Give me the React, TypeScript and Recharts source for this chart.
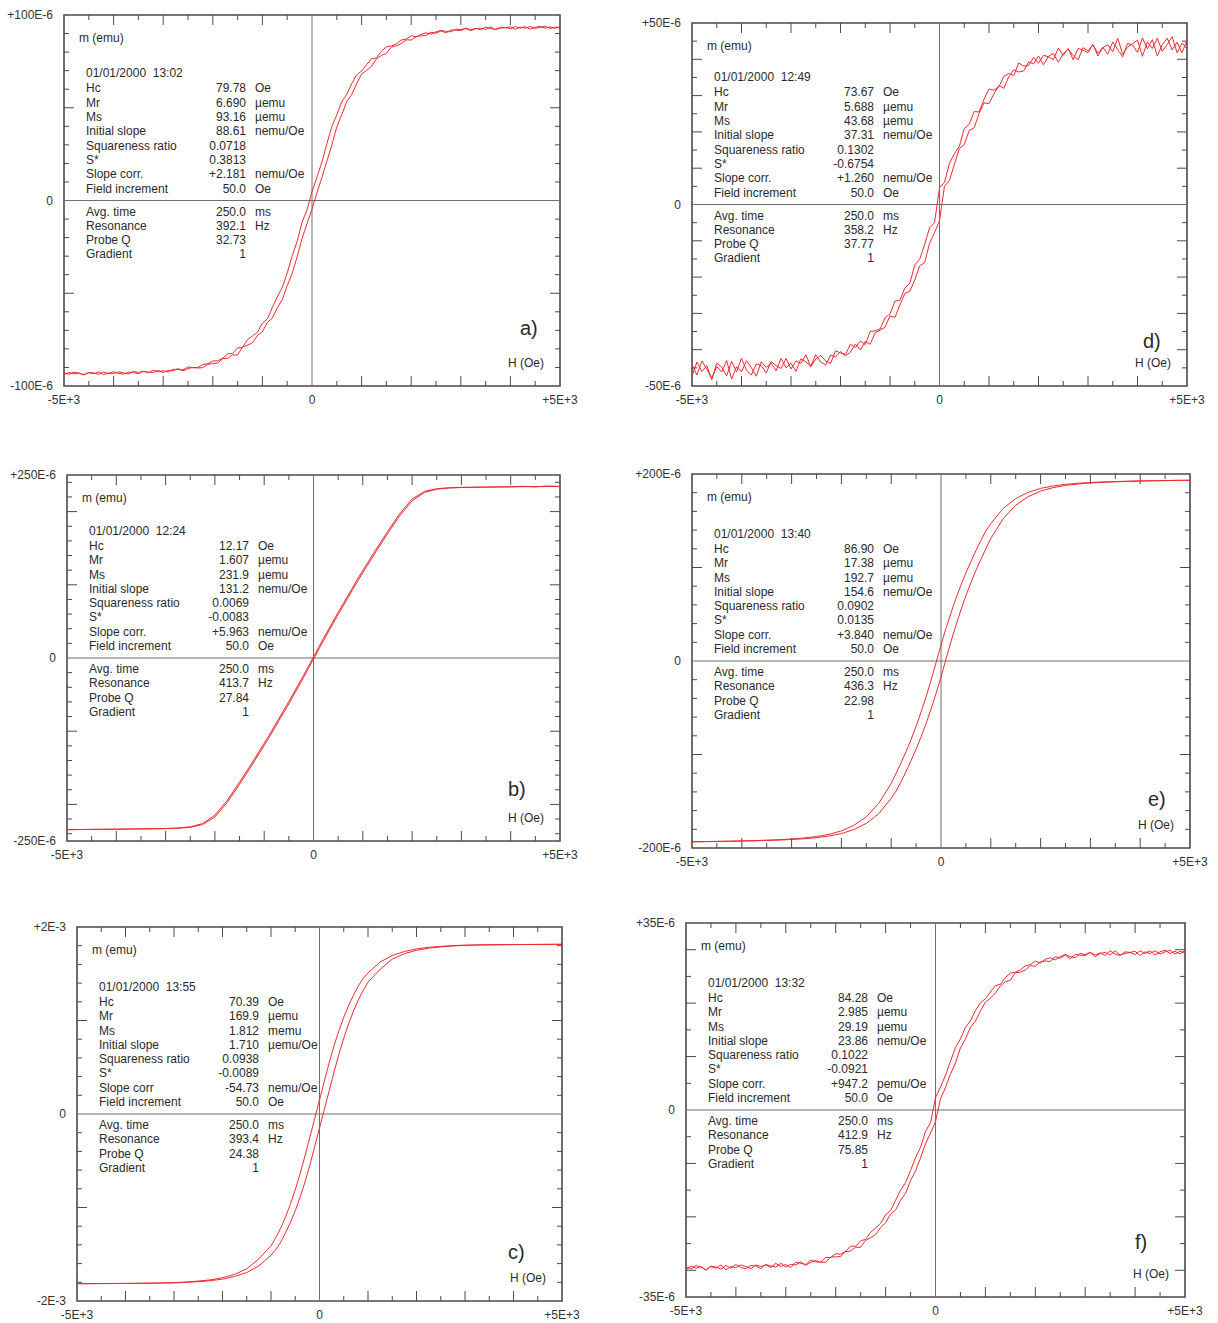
import React from 'react';
import { LineChart, Line, XAxis, YAxis, ReferenceLine, ReferenceArea } from 'recharts';

// Field sweep used by the noisier VSM runs (Oe), 100 Oe step
const H_SWEEP = [
  -5000, -4900, -4800, -4700, -4600, -4500, -4400, -4300, -4200, -4100,
  -4000, -3900, -3800, -3700, -3600, -3500, -3400, -3300, -3200, -3100,
  -3000, -2900, -2800, -2700, -2600, -2500, -2400, -2300, -2200, -2100,
  -2000, -1900, -1800, -1700, -1600, -1500, -1400, -1300, -1200, -1100,
  -1000, -900, -800, -700, -600, -500, -400, -300, -200, -100,
  0, 100, 200, 300, 400, 500, 600, 700, 800, 900,
  1000, 1100, 1200, 1300, 1400, 1500, 1600, 1700, 1800, 1900,
  2000, 2100, 2200, 2300, 2400, 2500, 2600, 2700, 2800, 2900,
  3000, 3100, 3200, 3300, 3400, 3500, 3600, 3700, 3800, 3900,
  4000, 4100, 4200, 4300, 4400, 4500, 4600, 4700, 4800, 4900, 5000,
];

// Field points for the smooth runs (Oe)
const H_FINE = [
  -5000, -4750, -4500, -4250, -4000, -3750, -3500, -3250, -3000, -2750, -2500, -2250, -2000, -1750, -1500, -1250,
  -1000, -900, -800, -700, -600, -500, -400, -300, -200, -100, 0, 100, 200, 300, 400, 500, 600, 700, 800, 900, 1000,
  1250, 1500, 1750, 2000, 2250, 2500, 2750, 3000, 3250, 3500, 3750, 4000, 4250, 4500, 4750, 5000,
];

// a) moment in µemu, descending and ascending field branches
const A_DOWN = [
  -92.9, -93.7, -92.5, -93.2, -93.8, -92.9, -93.4, -92.4, -93.9, -92.9,
  -93.3, -92.4, -92.9, -93.5, -92.2, -92.7, -92.1, -92.9, -91.5, -92.4,
  -91.7, -92.5, -91.0, -91.1, -91.3, -89.7, -90.2, -90.0, -88.4, -88.0,
  -86.5, -86.4, -85.0, -82.7, -82.4, -79.5, -79.2, -75.0, -73.0, -71.0,
  -66.1, -63.9, -57.7, -52.0, -46.9, -39.1, -30.0, -22.1, -11.7, -5.0,
  4.8, 12.6, 20.7, 30.6, 39.9, 46.2, 53.2, 57.2, 63.0, 67.7,
  69.8, 73.2, 76.4, 76.9, 80.4, 82.9, 83.3, 84.4, 86.5, 87.0,
  88.8, 88.2, 89.6, 90.4, 89.7, 90.9, 91.7, 91.2, 90.9, 92.4,
  92.1, 92.9, 92.0, 92.8, 92.1, 93.5, 92.7, 92.2, 93.4, 93.2,
  92.6, 93.8, 92.9, 93.7, 92.4, 93.3, 93.9, 92.9, 93.6, 92.8, 93.9,
];
const A_UP = [
  -93.9, -92.7, -93.4, -93.0, -94.0, -92.7, -93.0, -93.7, -92.5, -93.4,
  -92.3, -93.2, -93.6, -92.6, -92.7, -93.4, -92.1, -92.5, -92.7, -91.6,
  -92.7, -91.6, -91.8, -90.7, -91.8, -90.6, -90.0, -90.3, -90.1, -88.3,
  -87.9, -87.6, -85.3, -85.1, -83.2, -83.3, -79.0, -78.0, -76.7, -72.8,
  -70.7, -65.7, -63.4, -57.8, -53.5, -45.9, -39.3, -30.4, -20.4, -12.5,
  -4.6, 4.2, 12.3, 21.2, 29.9, 39.7, 46.3, 53.3, 57.1, 62.9,
  68.2, 70.1, 72.3, 76.4, 78.2, 79.3, 82.7, 83.4, 84.6, 86.6,
  86.5, 88.3, 88.8, 89.0, 90.7, 90.2, 91.4, 90.4, 91.9, 91.8,
  91.6, 92.7, 91.6, 92.6, 92.9, 92.2, 93.5, 92.2, 92.9, 93.2,
  93.6, 92.3, 93.5, 92.9, 93.8, 92.8, 93.3, 94.0, 92.7, 93.5, 93.0,
];

// d) moment in µemu
const D_DOWN = [
  -47.3, -43.4, -46.0, -44.4, -48.3, -43.7, -44.8, -47.2, -43.2, -46.1,
  -42.4, -45.6, -47.0, -43.9, -44.4, -46.4, -43.2, -44.4, -45.2, -42.4,
  -45.3, -43.1, -43.8, -41.4, -44.7, -42.6, -41.6, -43.1, -43.8, -40.3,
  -40.9, -41.3, -38.5, -39.4, -37.6, -38.6, -35.0, -34.8, -34.3, -31.2,
  -30.2, -26.6, -26.4, -23.0, -21.7, -16.7, -15.1, -11.0, -6.4, -5.0,
  4.6, 6.1, 11.3, 14.0, 16.0, 20.9, 22.1, 25.6, 25.5, 29.0,
  31.8, 31.5, 32.4, 35.3, 36.1, 35.5, 39.0, 38.1, 38.3, 40.5,
  38.9, 41.1, 40.7, 39.9, 43.1, 41.1, 43.0, 39.9, 43.0, 42.5,
  41.8, 44.1, 40.9, 43.2, 44.0, 42.1, 45.8, 41.4, 43.3, 44.3,
  45.3, 40.8, 44.8, 43.0, 45.8, 42.2, 44.1, 46.2, 41.8, 44.5, 42.8,
];
const D_UP = [
  -44.1, -47.0, -43.1, -45.4, -47.7, -44.7, -46.1, -43.0, -48.1, -44.7,
  -46.1, -43.0, -45.0, -47.3, -43.3, -44.9, -43.7, -45.8, -42.4, -45.0,
  -43.7, -46.0, -42.5, -43.4, -44.5, -41.4, -43.4, -44.2, -41.5, -42.0,
  -40.5, -41.7, -40.7, -38.4, -40.1, -37.7, -38.5, -35.3, -34.6, -33.8,
  -30.7, -31.1, -27.7, -24.5, -23.9, -20.8, -16.9, -16.0, -10.7, -7.7,
  -4.5, 5.0, 6.6, 11.0, 15.4, 16.5, 20.4, 21.1, 25.1, 28.0,
  27.8, 30.5, 32.8, 32.0, 35.2, 37.1, 36.5, 36.8, 39.3, 38.7,
  40.9, 38.5, 40.8, 41.6, 39.2, 41.5, 42.8, 41.0, 39.9, 43.2,
  42.3, 44.0, 41.7, 43.3, 41.4, 44.8, 42.7, 40.7, 44.4, 43.9,
  41.9, 45.9, 42.9, 45.4, 40.9, 44.0, 45.8, 42.6, 44.7, 41.8, 45.4,
];

// f) moment in µemu
const F_DOWN = [
  -29.3, -29.8, -29.1, -29.4, -29.9, -29.3, -29.6, -29.0, -29.9, -29.3,
  -29.5, -29.0, -29.3, -29.7, -29.0, -29.3, -29.0, -29.5, -28.7, -29.3,
  -28.9, -29.5, -28.5, -28.7, -28.9, -28.1, -28.4, -28.5, -27.6, -27.6,
  -26.9, -27.0, -26.4, -25.5, -25.5, -24.5, -24.2, -22.9, -22.1, -21.2,
  -19.6, -18.8, -16.9, -15.0, -13.6, -11.3, -8.9, -7.0, -4.0, -2.4,
  2.3, 4.3, 6.5, 9.1, 11.7, 13.3, 15.5, 16.7, 18.6, 20.1,
  20.8, 22.1, 23.3, 23.5, 24.8, 25.6, 25.8, 26.2, 27.0, 27.2,
  27.9, 27.5, 28.2, 28.5, 28.1, 28.7, 29.1, 28.7, 28.5, 29.3,
  29.1, 29.5, 29.0, 29.4, 28.9, 29.8, 29.2, 28.9, 29.6, 29.5,
  29.1, 29.8, 29.3, 29.8, 29.0, 29.6, 29.9, 29.3, 29.7, 29.2, 29.9,
];
const F_UP = [
  -29.9, -29.2, -29.6, -29.3, -30.0, -29.2, -29.4, -29.8, -29.1, -29.6,
  -28.9, -29.5, -29.7, -29.1, -29.2, -29.7, -28.9, -29.2, -29.4, -28.7,
  -29.4, -28.9, -29.0, -28.4, -29.1, -28.5, -28.2, -28.5, -28.5, -27.5,
  -27.5, -27.4, -26.5, -26.4, -25.7, -25.7, -24.4, -23.9, -23.3, -22.0,
  -21.1, -19.5, -18.7, -16.9, -15.6, -13.2, -11.4, -9.0, -6.3, -4.3,
  -2.2, 2.1, 4.2, 6.7, 8.8, 11.6, 13.3, 15.5, 16.6, 18.5,
  20.2, 20.9, 21.9, 23.2, 24.0, 24.3, 25.7, 25.8, 26.2, 27.0,
  26.9, 27.7, 27.9, 27.8, 28.7, 28.4, 29.0, 28.3, 29.1, 29.0,
  28.9, 29.5, 28.7, 29.3, 29.5, 29.0, 29.8, 29.0, 29.3, 29.5,
  29.7, 28.9, 29.6, 29.3, 29.8, 29.2, 29.6, 29.9, 29.2, 29.7, 29.4,
];

// b) moment in µemu
const B_DOWN = [
  -234.5, -234.3, -234.1, -234, -233.8, -233.6, -233.4, -233.2, -232.9, -232.2, -230.6, -226.2, -214.6, -194.5, -169.5, -143.5,
  -116.5, -105.5, -94, -82.5, -71, -59.5, -47.5, -35.5, -23.5, -11, 1.5, 14, 26.5, 38.5, 50.5, 62.5, 74, 85.5, 97, 108.5, 119.5,
  146.5, 172.5, 197.4, 217.2, 227.6, 231.3, 232.6, 233.1, 233.3, 233.5, 233.7, 233.9, 234.6, 233.8, 235.0, 234.2,
];
const B_UP = [
  -234.6, -234.4, -234.2, -234, -233.9, -233.7, -233.5, -233.3, -233.1, -232.6, -231.3, -227.6, -217.2, -197.4, -172.5, -146.5,
  -119.5, -108.5, -97, -85.5, -74, -62.5, -50.5, -38.5, -26.5, -14, -1.5, 11, 23.5, 35.5, 47.5, 59.5, 71, 82.5, 94, 105.5, 116.5,
  143.5, 169.5, 194.5, 214.6, 226.2, 230.6, 232.2, 232.9, 233.2, 233.4, 233.6, 233.8, 234, 234.1, 234.3, 234.5,
];

// c) moment in memu
const C_DOWN = [
  -1.815, -1.814, -1.813, -1.813, -1.812, -1.811, -1.809, -1.807, -1.803, -1.797, -1.787, -1.774, -1.751, -1.715, -1.656, -1.548,
  -1.41, -1.32, -1.22, -1.1, -0.965, -0.81, -0.64, -0.45, -0.25, -0.05, 0.15, 0.35, 0.55, 0.73, 0.89, 1.035, 1.16, 1.27, 1.37, 1.45, 1.51,
  1.625, 1.695, 1.738, 1.766, 1.783, 1.793, 1.801, 1.806, 1.808, 1.81, 1.811, 1.812, 1.813, 1.814, 1.815, 1.815,
];
const C_UP = [
  -1.815, -1.815, -1.814, -1.813, -1.812, -1.811, -1.81, -1.808, -1.806, -1.801, -1.793, -1.783, -1.766, -1.738, -1.695, -1.625,
  -1.51, -1.45, -1.37, -1.27, -1.16, -1.035, -0.89, -0.73, -0.55, -0.35, -0.15, 0.05, 0.25, 0.45, 0.64, 0.81, 0.965, 1.1, 1.22, 1.32, 1.41,
  1.548, 1.656, 1.715, 1.751, 1.774, 1.787, 1.797, 1.803, 1.807, 1.809, 1.811, 1.812, 1.813, 1.813, 1.814, 1.815,
];

// e) moment in µemu
const E_DOWN = [
  -193.3, -193.2, -192.9, -192.7, -192.4, -192.1, -191.6, -191.1, -190.4, -189.3, -187.8, -185.4, -181.7, -175.8, -166.7, -152.2,
  -131, -120.1, -108.6, -96.7, -83.8, -69.9, -54.6, -38.2, -20.8, -1.9, 17.1, 34.8, 51.4, 67, 81.1, 94.2, 106.3, 117.9, 128.9, 139, 146.8,
  163.3, 173.7, 180.3, 184.6, 187.2, 189, 190.1, 190.9, 191.5, 191.9, 192.3, 192.6, 192.8, 193.0, 193.2, 193.3,
];
const E_UP = [
  -193.3, -193.2, -193.0, -192.8, -192.6, -192.3, -191.9, -191.5, -190.9, -190.1, -189, -187.2, -184.6, -180.3, -173.7, -163.3,
  -146.8, -139, -128.9, -117.9, -106.3, -94.2, -81.1, -67, -51.4, -34.8, -17.1, 1.9, 20.8, 38.2, 54.6, 69.9, 83.8, 96.7, 108.6, 120.1, 131,
  152.2, 166.7, 175.8, 181.7, 185.4, 187.8, 189.3, 190.4, 191.1, 191.6, 192.1, 192.4, 192.7, 192.9, 193.2, 193.3,
];

type Row = [string, string, string];

const A_STATS: Row[] = [
  ['Hc', '79.78', 'Oe'], ['Mr', '6.690', 'µemu'], ['Ms', '93.16', 'µemu'], ['Initial slope', '88.61', 'nemu/Oe'],
  ['Squareness ratio', '0.0718', ''], ['S*', '0.3813', ''], ['Slope corr.', '+2.181', 'nemu/Oe'], ['Field increment', '50.0', 'Oe'],
];
const A_PROBE: Row[] = [['Avg. time', '250.0', 'ms'], ['Resonance', '392.1', 'Hz'], ['Probe Q', '32.73', ''], ['Gradient', '1', '']];

const D_STATS: Row[] = [
  ['Hc', '73.67', 'Oe'], ['Mr', '5.688', 'µemu'], ['Ms', '43.68', 'µemu'], ['Initial slope', '37.31', 'nemu/Oe'],
  ['Squareness ratio', '0.1302', ''], ['S*', '-0.6754', ''], ['Slope corr.', '+1.260', 'nemu/Oe'], ['Field increment', '50.0', 'Oe'],
];
const D_PROBE: Row[] = [['Avg. time', '250.0', 'ms'], ['Resonance', '358.2', 'Hz'], ['Probe Q', '37.77', ''], ['Gradient', '1', '']];

const B_STATS: Row[] = [
  ['Hc', '12.17', 'Oe'], ['Mr', '1.607', 'µemu'], ['Ms', '231.9', 'µemu'], ['Initial slope', '131.2', 'nemu/Oe'],
  ['Squareness ratio', '0.0069', ''], ['S*', '-0.0083', ''], ['Slope corr.', '+5.963', 'nemu/Oe'], ['Field increment', '50.0', 'Oe'],
];
const B_PROBE: Row[] = [['Avg. time', '250.0', 'ms'], ['Resonance', '413.7', 'Hz'], ['Probe Q', '27.84', ''], ['Gradient', '1', '']];

const E_STATS: Row[] = [
  ['Hc', '86.90', 'Oe'], ['Mr', '17.38', 'µemu'], ['Ms', '192.7', 'µemu'], ['Initial slope', '154.6', 'nemu/Oe'],
  ['Squareness ratio', '0.0902', ''], ['S*', '0.0135', ''], ['Slope corr.', '+3.840', 'nemu/Oe'], ['Field increment', '50.0', 'Oe'],
];
const E_PROBE: Row[] = [['Avg. time', '250.0', 'ms'], ['Resonance', '436.3', 'Hz'], ['Probe Q', '22.98', ''], ['Gradient', '1', '']];

const C_STATS: Row[] = [
  ['Hc', '70.39', 'Oe'], ['Mr', '169.9', 'µemu'], ['Ms', '1.812', 'memu'], ['Initial slope', '1.710', 'µemu/Oe'],
  ['Squareness ratio', '0.0938', ''], ['S*', '-0.0089', ''], ['Slope corr', '-54.73', 'nemu/Oe'], ['Field increment', '50.0', 'Oe'],
];
const C_PROBE: Row[] = [['Avg. time', '250.0', 'ms'], ['Resonance', '393.4', 'Hz'], ['Probe Q', '24.38', ''], ['Gradient', '1', '']];

const F_STATS: Row[] = [
  ['Hc', '84.28', 'Oe'], ['Mr', '2.985', 'µemu'], ['Ms', '29.19', 'µemu'], ['Initial slope', '23.86', 'nemu/Oe'],
  ['Squareness ratio', '0.1022', ''], ['S*', '-0.0921', ''], ['Slope corr.', '+947.2', 'pemu/Oe'], ['Field increment', '50.0', 'Oe'],
];
const F_PROBE: Row[] = [['Avg. time', '250.0', 'ms'], ['Resonance', '412.9', 'Hz'], ['Probe Q', '75.85', ''], ['Gradient', '1', '']];

const FONT = '"Liberation Sans", Arial, Helvetica, sans-serif';
const CURVE = '#ee2a30';
const FRAME = '#4a4a4a';
const INK = '#2a2a2a';

interface PanelSpec {
  id: string;
  left: number;
  top: number;
  width: number;
  height: number;
  ymax: number;
  yStep: number;
  yLong: number;
  yTop: string;
  yBottom: string;
  h: number[];
  down: number[];
  up: number[];
  time: string;
  stats: Row[];
  probe: Row[];
  letter: string;
  letterDx: number;
  letterDy: number;
}

const PANELS: PanelSpec[] = [
  { id: 'a', left: 64, top: 15, width: 496, height: 371, ymax: 100, yStep: 10, yLong: 50, yTop: '+100E-6', yBottom: '-100E-6',
    h: H_SWEEP, down: A_DOWN, up: A_UP, time: '01/01/2000  13:02', stats: A_STATS, probe: A_PROBE, letter: 'a)', letterDx: 40, letterDy: 58 },
  { id: 'd', left: 692, top: 23, width: 495, height: 363, ymax: 50, yStep: 5, yLong: 10, yTop: '+50E-6', yBottom: '-50E-6',
    h: H_SWEEP, down: D_DOWN, up: D_UP, time: '01/01/2000  12:49', stats: D_STATS, probe: D_PROBE, letter: 'd)', letterDx: 44, letterDy: 45 },
  { id: 'b', left: 67, top: 475, width: 493, height: 366, ymax: 250, yStep: 20, yLong: 100, yTop: '+250E-6', yBottom: '-250E-6',
    h: H_FINE, down: B_DOWN, up: B_UP, time: '01/01/2000  12:24', stats: B_STATS, probe: B_PROBE, letter: 'b)', letterDx: 52, letterDy: 52 },
  { id: 'e', left: 692, top: 474, width: 498, height: 374, ymax: 200, yStep: 20, yLong: 100, yTop: '+200E-6', yBottom: '-200E-6',
    h: H_FINE, down: E_DOWN, up: E_UP, time: '01/01/2000  13:40', stats: E_STATS, probe: E_PROBE, letter: 'e)', letterDx: 42, letterDy: 49 },
  { id: 'c', left: 77, top: 927, width: 485, height: 374, ymax: 2, yStep: 0.2, yLong: 1, yTop: '+2E-3', yBottom: '-2E-3',
    h: H_FINE, down: C_DOWN, up: C_UP, time: '01/01/2000  13:55', stats: C_STATS, probe: C_PROBE, letter: 'c)', letterDx: 54, letterDy: 49 },
  { id: 'f', left: 686, top: 923, width: 499, height: 374, ymax: 35, yStep: 5, yLong: 10, yTop: '+35E-6', yBottom: '-35E-6',
    h: H_SWEEP, down: F_DOWN, up: F_UP, time: '01/01/2000  13:32', stats: F_STATS, probe: F_PROBE, letter: 'f)', letterDx: 50, letterDy: 55 },
];

const H_LABELS: Record<number, string> = { [-5000]: '-5E+3', 0: '0', 5000: '+5E+3' };

const YW = 70;
const MT = 12;
const MR = 34;
const XH = 30;

const textStyle: React.CSSProperties = {
  position: 'absolute',
  fontSize: 12,
  lineHeight: '14px',
  height: 14,
  color: INK,
  whiteSpace: 'pre',
  fontFamily: FONT,
};

function Readout({ p }: { p: PanelSpec }) {
  const zeroY = p.top + p.height / 2;
  const labelX = p.left + 22;
  const valueRight = p.left + 182;
  const unitX = p.left + 191;
  const step = 14.3;
  const out: React.ReactNode[] = [];
  const row = (r: Row, cy: number, key: string) => {
    out.push(<div key={key + 'l'} style={{ ...textStyle, left: labelX, top: cy - 7 }}>{r[0]}</div>);
    out.push(<div key={key + 'v'} style={{ ...textStyle, left: valueRight - 90, width: 90, textAlign: 'right', top: cy - 7 }}>{r[1]}</div>);
    if (r[2]) out.push(<div key={key + 'u'} style={{ ...textStyle, left: unitX, top: cy - 7 }}>{r[2]}</div>);
  };
  const lastStat = zeroY - 12;
  p.stats.forEach((r, i) => row(r, lastStat - (p.stats.length - 1 - i) * step, 's' + i));
  const firstStat = lastStat - (p.stats.length - 1) * step;
  p.probe.forEach((r, i) => row(r, zeroY + 11 + i * step, 'p' + i));
  return (
    <>
      <div style={{ ...textStyle, left: p.left + 15, top: p.top + 23 - 7 }}>m (emu)</div>
      <div style={{ ...textStyle, left: labelX, top: firstStat - 15 - 7 }}>{p.time}</div>
      {out}
      <div style={{ ...textStyle, left: p.left + p.width - 52, top: p.top + p.height - 23 - 7 }}>H (Oe)</div>
      <div style={{ ...textStyle, fontSize: 20, lineHeight: '24px', height: 24, left: p.left + p.width - p.letterDx, top: p.top + p.height - p.letterDy - 12 }}>
        {p.letter}
      </div>
    </>
  );
}

function Panel({ p }: { p: PanelSpec }) {
  const down = p.h.map((h, i) => ({ h, m: p.down[i] }));
  const up = p.h.map((h, i) => ({ h, m: p.up[i] }));
  const yPerPx = (2 * p.ymax) / p.height;
  const xPerPx = 10000 / p.width;
  const marks: React.ReactNode[] = [];

  // field ticks every 500 Oe on the top and bottom frame, longer at whole kOe
  for (let i = -9; i <= 9; i++) {
    if (i === 0) continue;
    const x = i * 500;
    const len = (i % 2 === 0 ? 10 : 5) * yPerPx;
    marks.push(
      <ReferenceLine key={'xb' + i} segment={[{ x, y: -p.ymax }, { x, y: -p.ymax + len }]} stroke={FRAME} strokeWidth={1} />,
      <ReferenceLine key={'xt' + i} segment={[{ x, y: p.ymax }, { x, y: p.ymax - len }]} stroke={FRAME} strokeWidth={1} />,
    );
  }
  // moment ticks on the left and right frame
  const n = Math.floor((p.ymax - p.yStep * 0.01) / p.yStep);
  const every = Math.round(p.yLong / p.yStep);
  for (let j = -n; j <= n; j++) {
    if (j === 0) continue;
    const y = j * p.yStep;
    const len = (j % every === 0 ? 10 : 5) * xPerPx;
    marks.push(
      <ReferenceLine key={'yl' + j} segment={[{ x: -5000, y }, { x: -5000 + len, y }]} stroke={FRAME} strokeWidth={1} />,
      <ReferenceLine key={'yr' + j} segment={[{ x: 5000, y }, { x: 5000 - len, y }]} stroke={FRAME} strokeWidth={1} />,
    );
  }

  const tickFont = { fontSize: 12, fill: '#333', fontFamily: FONT };

  return (
    <>
      <div style={{ position: 'absolute', left: p.left - YW, top: p.top - MT }}>
        <LineChart
          width={YW + p.width + MR}
          height={MT + p.height + XH}
          margin={{ top: MT, right: MR, bottom: 0, left: 0 }}
        >
          <XAxis
            type="number"
            dataKey="h"
            domain={[-5000, 5000]}
            ticks={[-5000, 0, 5000]}
            tickFormatter={(v: number) => H_LABELS[v] ?? String(v)}
            interval={0}
            allowDataOverflow
            axisLine={false}
            tickLine={false}
            tickSize={0}
            tickMargin={9}
            height={XH}
            tick={tickFont}
          />
          <YAxis
            type="number"
            dataKey="m"
            domain={[-p.ymax, p.ymax]}
            ticks={[-p.ymax, 0, p.ymax]}
            tickFormatter={(v: number) => (v > 0 ? p.yTop : v < 0 ? p.yBottom : '0')}
            interval={0}
            allowDataOverflow
            axisLine={false}
            tickLine={false}
            tickSize={0}
            tickMargin={11}
            width={YW}
            tick={tickFont}
          />
          <ReferenceLine x={0} stroke="#6e6e6e" strokeWidth={1} />
          <ReferenceLine y={0} stroke="#6e6e6e" strokeWidth={1} />
          {marks}
          <Line data={down} dataKey="m" type="linear" stroke={CURVE} strokeWidth={1} dot={false} isAnimationActive={false} />
          <Line data={up} dataKey="m" type="linear" stroke={CURVE} strokeWidth={1} dot={false} isAnimationActive={false} />
          <ReferenceArea x1={-5000} x2={5000} y1={-p.ymax} y2={p.ymax} fill="none" fillOpacity={0} stroke={FRAME} strokeWidth={1.6} />
        </LineChart>
      </div>
      <Readout p={p} />
    </>
  );
}

export default function App() {
  return (
    <div style={{ position: 'absolute', left: 0, top: 0, width: 1218, height: 1323, background: '#fff', fontFamily: FONT, overflow: 'hidden' }}>
      {PANELS.map((p) => (
        <Panel key={p.id} p={p} />
      ))}
    </div>
  );
}
